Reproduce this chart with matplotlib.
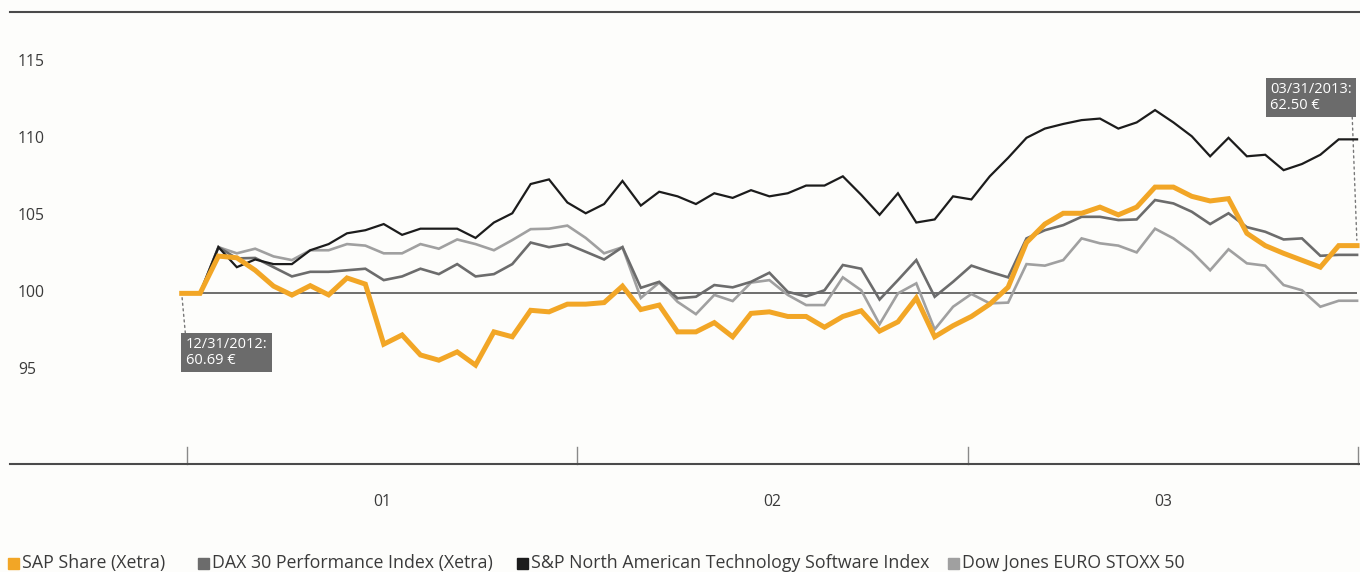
import matplotlib
matplotlib.use('Agg')
import matplotlib.pyplot as plt
import matplotlib.transforms as mtransforms
from matplotlib.patches import Rectangle

# ---------------- data (index, 12/31/2012 = 100) ----------------
sap = [100, 100, 102.42, 102.31, 101.5, 100.47, 99.89, 100.5, 99.9, 101.0,
       100.6, 96.7, 97.3, 96.0, 95.66, 96.2, 95.34, 97.5, 97.18, 98.9,
       98.8, 99.3, 99.3, 99.4, 100.47, 98.95, 99.24, 97.5, 97.5, 98.1,
       97.18, 98.7, 98.8, 98.5, 98.5, 97.8, 98.5, 98.87, 97.55, 98.15,
       99.7, 97.18, 97.9, 98.5, 99.3, 100.4, 103.3, 104.5, 105.2, 105.2,
       105.6, 105.1, 105.6, 106.9, 106.9, 106.3, 106.0, 106.15, 103.9, 103.1,
       102.6, 102.15, 101.7, 103.1, 103.1]
dax = [100, 100, 103.0, 102.27, 102.3, 101.7, 101.1, 101.4, 101.4, 101.5,
       101.6, 100.86, 101.1, 101.6, 101.25, 101.9, 101.1, 101.25, 101.9, 103.3,
       103.0, 103.2, 102.7, 102.2, 103.0, 100.36, 100.75, 99.68, 99.78, 100.54,
       100.39, 100.75, 101.34, 100.1, 99.8, 100.2, 101.84, 101.6, 99.6, 100.86,
       102.16, 99.78, 100.75, 101.8, 101.4, 101.04, 103.57, 104.1, 104.43, 104.97,
       104.97, 104.76, 104.8, 106.06, 105.84, 105.3, 104.5, 105.2, 104.3, 104.0,
       103.5, 103.57, 102.44, 102.5, 102.5]
snp = [100, 100, 103.0, 101.7, 102.2, 101.9, 101.9, 102.8, 103.2, 103.9,
       104.1, 104.5, 103.8, 104.2, 104.2, 104.2, 103.6, 104.6, 105.2, 107.1,
       107.4, 105.9, 105.2, 105.8, 107.3, 105.7, 106.6, 106.3, 105.8, 106.5,
       106.2, 106.7, 106.3, 106.5, 107.0, 107.0, 107.6, 106.4, 105.1, 106.5,
       104.6, 104.8, 106.3, 106.1, 107.6, 108.8, 110.1, 110.7, 111.0, 111.25,
       111.35, 110.7, 111.1, 111.9, 111.1, 110.2, 108.9, 110.1, 108.9, 109.0,
       108.0, 108.4, 109.0, 110.0, 110.0]
stoxx = [100, 100, 103.0, 102.6, 102.9, 102.4, 102.16, 102.8, 102.8, 103.2,
         103.1, 102.6, 102.6, 103.2, 102.9, 103.5, 103.2, 102.8, 103.46, 104.17,
         104.2, 104.4, 103.6, 102.6, 103.0, 99.7, 100.7, 99.45, 98.65, 99.9,
         99.5, 100.7, 100.86, 99.9, 99.24, 99.24, 101.04, 100.2, 98.0, 100.0,
         100.65, 97.66, 99.13, 99.96, 99.35, 99.4, 101.9, 101.8, 102.16, 103.57,
         103.25, 103.1, 102.66, 104.2, 103.57, 102.7, 101.5, 102.86, 101.95, 101.8,
         100.54, 100.2, 99.13, 99.52, 99.52]

series_names = ['SAP Share (Xetra)', 'DAX 30 Performance Index (Xetra)',
                'S&P North American Technology Software Index', 'Dow Jones EURO STOXX 50']
month_labels = ['01', '02', '03']
y_ticks = [95, 100, 105, 110, 115]
start_label = '12/31/2012:\n60.69 €'
end_label = '03/31/2013:\n62.50 €'

# ---------------- style ----------------
BG = '#fdfdfb'
C_SAP = '#f2a626'
C_DAX = '#6c6c6c'
C_SNP = '#1c1c1c'
C_STX = '#a0a0a0'
TXT = '#3a3a3a'
FONT = ['Open Sans', 'DejaVu Sans']
plt.rcParams['font.family'] = FONT

W, H = 1360, 572
fig = plt.figure(figsize=(W / 100, H / 100), dpi=100)
fig.patch.set_facecolor(BG)
ax = fig.add_axes([10 / W, (H - 464) / H, 1350 / W, (464 - 12) / H])
ax.set_facecolor(BG)

x = list(range(len(sap)))
ax.plot(x, stoxx, color=C_STX, lw=1.9, solid_joinstyle='miter', zorder=3)
ax.plot(x, dax, color=C_DAX, lw=1.9, solid_joinstyle='miter', zorder=4)
ax.plot(x, snp, color=C_SNP, lw=1.6, solid_joinstyle='miter', zorder=5)
ax.plot(x, sap, color=C_SAP, lw=3.6, solid_joinstyle='miter', zorder=6)
ax.hlines(100, x[0], x[-1], color='#555555', lw=1.2, zorder=2)

ax.set_xlim(-9.35, 64.16)
ax.set_ylim(88.92, 118.27)

for s in ['left', 'right']:
    ax.spines[s].set_visible(False)
for s in ['top', 'bottom']:
    ax.spines[s].set_color('#4a4a4a')
    ax.spines[s].set_linewidth(1.5)
ax.set_xticks([])
ax.set_yticks([])

# y labels inside plot
tr_y = mtransforms.blended_transform_factory(ax.transAxes, ax.transData)
for v in y_ticks:
    ax.text(8 / 1350, v + 0.05, str(v), transform=tr_y, ha='left', va='center',
            fontsize=11.3, color=TXT)

# month boundaries and labels
month_bounds = [0.29, 21.53, 42.83, 64.07]
tr_x = mtransforms.blended_transform_factory(ax.transData, ax.transAxes)
for b in month_bounds:
    ax.plot([b, b], [0, 17 / 452], transform=tr_x, color='#8a8a8a', lw=1.0,
            clip_on=False)
for i, lab in enumerate(month_labels):
    mid = (month_bounds[i] + month_bounds[i + 1]) / 2
    ax.text(mid, -38 / 452, lab, transform=tr_x, ha='center', va='center',
            fontsize=11.3, color=TXT)

# annotations
box = dict(boxstyle='square,pad=0.3', fc='#6b6b6b', ec='none')
ax.annotate(start_label, xy=(x[0], sap[0]), xytext=(4, -44),
            textcoords='offset pixels', ha='left', va='top', fontsize=10.5,
            color='white', bbox=box, linespacing=1.05, multialignment='left',
            arrowprops=dict(arrowstyle='-', color='#777777', lw=1.0, ls=(0, (1.5, 2.5)),
                            relpos=(0, 1), shrinkA=0, shrinkB=3))
ax.annotate(end_label, xy=(x[-1], sap[-1]), xytext=(-5, 133),
            textcoords='offset pixels', ha='right', va='bottom', fontsize=10.5,
            color='white', bbox=box, linespacing=1.05, multialignment='left',
            arrowprops=dict(arrowstyle='-', color='#777777', lw=1.0, ls=(0, (1.5, 2.5)),
                            relpos=(1, 0), shrinkA=0, shrinkB=4))

# legend (manual)
legend_x = [8, 198, 517, 948]
colors = [C_SAP, C_DAX, C_SNP, C_STX]
ly = 563
for name, c, lx in zip(series_names, colors, legend_x):
    fig.patches.append(Rectangle((lx / W, (H - ly - 6) / H), 11 / W, 11 / H,
                                 transform=fig.transFigure, color=c, figure=fig))
    fig.text((lx + 14) / W, (H - ly) / H, name, ha='left', va='center',
             fontsize=12.8, color=TXT)

fig.savefig('out.png', dpi=100, facecolor=BG)
